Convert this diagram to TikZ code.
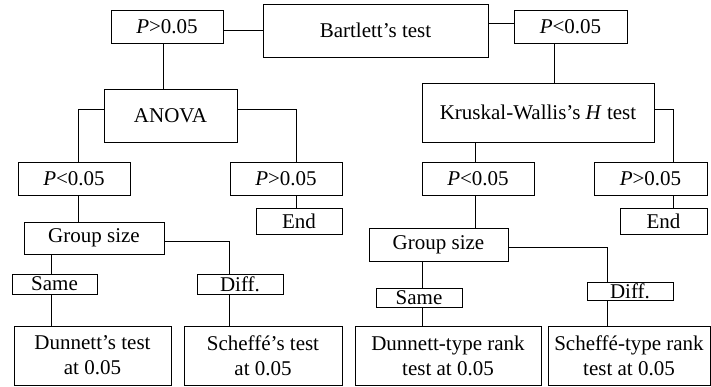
\documentclass[tikz,border=0pt]{standalone}
\usepackage{fontspec}
\setmainfont{Liberation Serif}
\begin{document}
\begin{tikzpicture}[x=1pt,y=-1pt,
  box/.style={draw, line width=0.9pt, inner sep=0pt, align=center, font=\fontsize{21}{25}\selectfont},
  low/.style={text depth=0pt, text height=14pt, yshift=-1.5pt},
  conn/.style={line width=0.9pt},
  bx/.style n args={2}{minimum width=#1pt, minimum height=#2pt}]
\useasboundingbox (0,0) rectangle (711,387);
% nodes
\node[box,bx={225}{53}] (bart) at (375.5,30.5) {Bartlett’s test};
\node[box,bx={112}{33}] (pg1) at (167,26.5) {\textit{P}>0.05};
\node[box,bx={113}{33}] (pl1) at (570.5,26.5) {\textit{P}<0.05};
\node[box,bx={133}{53}] (anova) at (170.5,115.5) {ANOVA};
\node[box,bx={232}{59}] (kw) at (538,112.5) {Kruskal-Wallis’s \textit{H} test};
\node[box,bx={112}{33}] (pl2) at (74,178.5) {\textit{P}<0.05};
\node[box,bx={112}{33}] (pg2) at (286,178.5) {\textit{P}>0.05};
\node[box,bx={112}{33}] (pl3) at (478,178.5) {\textit{P}<0.05};
\node[box,bx={113}{33}] (pg3) at (650.5,178.5) {\textit{P}>0.05};
\node[box,bx={86}{26}] (end1) at (299,221) {End};
\node[box,bx={87}{26}] (end2) at (663.5,221) {End};
\node[box,bx={140}{32}] (gs1) at (94,238) {Group size};
\node[box,bx={139}{33}] (gs2) at (438.5,244.5) {Group size};
\node[box,bx={85}{20}] (same1) at (54.5,284) {Same};
\node[box,bx={86}{20}] (diff1) at (240,284) {Diff.};
\node[box,bx={86}{19}] (same2) at (419,297.5) {Same};
\node[box,bx={86}{18}] (diff2) at (630,291) {Diff.};
\node[box,bx={157}{59}] (dun1) at (92.5,355.5) {Dunnett’s test\\at 0.05};
\node[box,bx={158}{59}] (sch1) at (263,355.5) {Scheffé’s test\\at 0.05};
\node[box,bx={186}{59}] (dun2) at (448,355.5) {Dunnett-type rank\\test at 0.05};
\node[box,bx={162}{59}] (sch2) at (629,355.5) {Scheffé-type rank\\test at 0.05};
% connectors
\draw[conn] (bart.west) -- (bart.west -| pg1.east);
\draw[conn] ([yshift=3.5pt]pl1.west) -- ([yshift=3.5pt]pl1.west -| bart.east);
\draw[conn] ([xshift=-4pt]pg1.south) -- ([xshift=-4pt]pg1.south |- anova.north);
\draw[conn] ([xshift=-16.5pt]pl1.south) -- ([xshift=-16.5pt]pl1.south |- kw.north);
\draw[conn] ([yshift=6.5pt]anova.west) -| ([xshift=4pt]pl2.north);
\draw[conn] ([yshift=6.5pt]anova.east) -| ([xshift=10pt]pg2.north);
\draw[conn] ([xshift=-3pt]pl3.north) -- ([xshift=-3pt]pl3.north |- kw.south);
\draw[conn] ([yshift=3.5pt]kw.east) -| ([xshift=22.5pt]pg3.north);
\draw[conn] ([xshift=4pt]pl2.south) -- ([xshift=4pt]pl2.south |- gs1.north);
\draw[conn] ([xshift=10pt]pg2.south) -- ([xshift=10pt]pg2.south |- end1.north);
\draw[conn] ([xshift=-3pt]pl3.south) -- ([xshift=-3pt]pl3.south |- gs2.north);
\draw[conn] ([xshift=22.5pt]pg3.south) -- ([xshift=22.5pt]pg3.south |- end2.north);
\draw[conn] ([xshift=-3.5pt]same1.north) -- ([xshift=-3.5pt]same1.north |- gs1.south);
\draw[conn] ([yshift=-3pt]gs1.east) -| ([xshift=-11pt]diff1.north);
\draw[conn] ([xshift=-3.5pt]same1.south) -- ([xshift=-3.5pt]same1.south |- dun1.north);
\draw[conn] ([xshift=-11pt]diff1.south) -- ([xshift=-11pt]diff1.south |- sch1.north);
\draw[conn] ([xshift=3pt]same2.north) -- ([xshift=3pt]same2.north |- gs2.south);
\draw[conn] ([yshift=-2.5pt]gs2.east) -| ([xshift=-23pt]diff2.north);
\draw[conn] ([xshift=3pt]same2.south) -- ([xshift=3pt]same2.south |- dun2.north);
\draw[conn] ([xshift=-23pt]diff2.south) -- ([xshift=-23pt]diff2.south |- sch2.north);
\end{tikzpicture}
\end{document}
